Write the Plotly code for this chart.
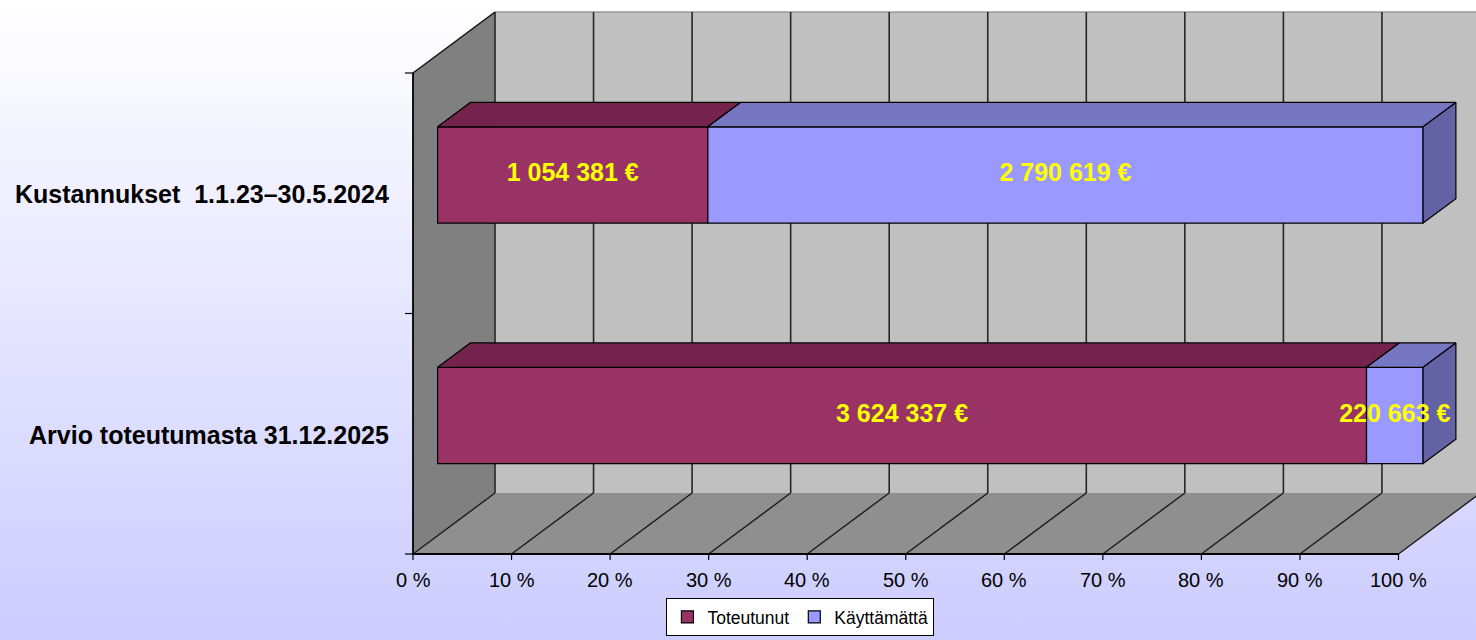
import base64
import plotly.graph_objects as go

# ---------------- data ----------------
categories = ["Arvio toteutumasta 31.12.2025", "Kustannukset  1.1.23–30.5.2024"]
series_names = ["Toteutunut", "Käyttämättä"]
toteutunut = [3624337, 1054381]
kayttamatta = [220663, 2790619]
tick_values = [0, 10, 20, 30, 40, 50, 60, 70, 80, 90, 100]
tick_labels = ["0 %", "10 %", "20 %", "30 %", "40 %", "50 %", "60 %", "70 %", "80 %", "90 %", "100 %"]

# ---------------- style / geometry ----------------
W, H = 1476, 640
X0_PX, XS = 413.0, 9.855      # px of 0 %, px per %
Y0_PX, YS = 554.0, 240.5      # px of category-axis origin, px per category unit
DX = 82.0 / XS                # depth offset in x units
DY = 61.0 / YS                # depth offset in y units
F0, F1 = 0.3, 0.7             # bar depth (front, back)
BAR_HALF = 0.2

front_cols = ["#993366", "#9999FF"]
top_cols = ["#74234C", "#7676C2"]
side_cols = ["#5E1B3D", "#6262A4"]
FONT = "Liberation Sans, Arial, sans-serif"

x_range = [(0 - X0_PX) / XS, (W - X0_PX) / XS]
y_range = [(Y0_PX - H) / YS, Y0_PX / YS]
n_cat = len(categories)


def P(v, u, d):
    return v + d * DX, u + d * DY


def path(points):
    return "M " + " L ".join(f"{x:.5f},{y:.5f}" for x, y in points) + " Z"


def seg(points):
    return "M " + " L ".join(f"{x:.5f},{y:.5f}" for x, y in points)


fig = go.Figure()
shapes = []

# walls
left_wall = [P(0, 0, 0), P(0, n_cat, 0), P(0, n_cat, 1), P(0, 0, 1)]
back_wall = [P(0, 0, 1), P(100, 0, 1), P(100, n_cat, 1), P(0, n_cat, 1)]
floor = [P(0, 0, 0), P(100, 0, 0), P(100, 0, 1), P(0, 0, 1)]
shapes.append(dict(type="path", path=path(back_wall), fillcolor="#C0C0C0",
                   line=dict(width=0), layer="below", xref="x", yref="y"))
shapes.append(dict(type="path", path=path(left_wall), fillcolor="#808080",
                   line=dict(width=0), layer="below", xref="x", yref="y"))
shapes.append(dict(type="path", path=path(floor), fillcolor="#8F8F8F",
                   line=dict(width=0), layer="below", xref="x", yref="y"))
# back wall top edge
shapes.append(dict(type="path", path=seg([P(0, n_cat, 1), P(100, n_cat, 1)]),
                   line=dict(color="#9A9A9A", width=1.5), layer="below", xref="x", yref="y"))
# gridlines: back wall verticals and floor diagonals
for v in tick_values:
    shapes.append(dict(type="path", path=seg([P(v, 0, 1), P(v, n_cat, 1)]),
                       line=dict(color="#262626", width=1.6), layer="below", xref="x", yref="y"))
    shapes.append(dict(type="path", path=seg([P(v, 0, 0), P(v, 0, 1)]),
                       line=dict(color="#1A1A1A", width=1.4), layer="below", xref="x", yref="y"))
# left wall top edge
shapes.append(dict(type="path", path=seg([P(0, n_cat, 0), P(0, n_cat, 1)]),
                   line=dict(color="#111111", width=1.5), layer="below", xref="x", yref="y"))
# axis lines
shapes.append(dict(type="path", path=seg([P(0, 0, 0), P(0, n_cat, 0)]),
                   line=dict(color="#000000", width=1.8), layer="below", xref="x", yref="y"))
shapes.append(dict(type="path", path=seg([P(0, 0, 0), P(100, 0, 0)]),
                   line=dict(color="#000000", width=1.8), layer="below", xref="x", yref="y"))
# tick marks
for v in tick_values:
    shapes.append(dict(type="path", path=seg([(v, 0), (v, -6 / YS)]),
                       line=dict(color="#000000", width=1.2), layer="below", xref="x", yref="y"))
for u in range(n_cat + 1):
    shapes.append(dict(type="path", path=seg([(0, u), (-8 / XS, u)]),
                       line=dict(color="#000000", width=1.2), layer="below", xref="x", yref="y"))

# ---------------- bars ----------------
values = [toteutunut, kayttamatta]
totals = [sum(v[i] for v in values) for i in range(n_cat)]
centers = [i + 0.5 for i in range(n_cat)]

starts = [0.0] * n_cat
seg_info = []
for s, vals in enumerate(values):
    pct = [vals[i] / totals[i] * 100 for i in range(n_cat)]
    fig.add_trace(go.Bar(
        name=series_names[s], orientation="h",
        y=[c + F0 * DY for c in centers], x=pct,
        base=[starts[i] + F0 * DX for i in range(n_cat)],
        width=2 * BAR_HALF,
        marker=dict(color=front_cols[s], line=dict(color="#000000", width=1.2)),
        hoverinfo="skip",
    ))
    for i in range(n_cat):
        seg_info.append((s, i, starts[i], starts[i] + pct[i], vals[i]))
    starts = [starts[i] + pct[i] for i in range(n_cat)]

# top faces and side faces
for s, i, a, b, val in seg_info:
    c = centers[i]
    top = [P(a, c + BAR_HALF, F0), P(b, c + BAR_HALF, F0), P(b, c + BAR_HALF, F1), P(a, c + BAR_HALF, F1), P(a, c + BAR_HALF, F0)]
    fig.add_trace(go.Scatter(x=[p[0] for p in top], y=[p[1] for p in top], mode="lines",
                             fill="toself", fillcolor=top_cols[s],
                             line=dict(color="#000000", width=1.2),
                             showlegend=False, hoverinfo="skip"))
    if abs(b - 100) < 1e-6:
        side = [P(b, c - BAR_HALF, F0), P(b, c + BAR_HALF, F0), P(b, c + BAR_HALF, F1), P(b, c - BAR_HALF, F1), P(b, c - BAR_HALF, F0)]
        fig.add_trace(go.Scatter(x=[p[0] for p in side], y=[p[1] for p in side], mode="lines",
                                 fill="toself", fillcolor=side_cols[s],
                                 line=dict(color="#000000", width=1.2),
                                 showlegend=False, hoverinfo="skip"))

# value labels
lx, ly, lt = [], [], []
for s, i, a, b, val in seg_info:
    x, y = P((a + b) / 2, centers[i], F0)
    lx.append(x)
    ly.append(y)
    lt.append("<b>" + f"{val:,}".replace(",", " ") + " €</b>")
fig.add_trace(go.Scatter(x=lx, y=ly, text=lt, mode="text",
                         textfont=dict(family=FONT, size=25, color="#FFFF00"),
                         showlegend=False, hoverinfo="skip", cliponaxis=False))

annotations = []
for v, t in zip(tick_values, tick_labels):
    annotations.append(dict(x=v, y=0, xref="x", yref="y", text=t, showarrow=False,
                            yshift=-26, xanchor="center", yanchor="middle",
                            font=dict(family=FONT, size=20, color="#000000")))
for c, name in zip(centers, categories):
    annotations.append(dict(x=0, y=c, xref="x", yref="y", text="<b>" + name + "</b>",
                            showarrow=False, xshift=-22, yshift=-1, xanchor="right", yanchor="middle",
                            font=dict(family=FONT, size=25, color="#000000")))

# gradient background
svg = ('<svg xmlns="http://www.w3.org/2000/svg" width="1476" height="640" preserveAspectRatio="none">'
       '<defs><linearGradient id="g" x1="0" y1="0" x2="0" y2="1">'
       '<stop offset="0" stop-color="#FFFFFF"/><stop offset="1" stop-color="#CCCCFF"/>'
       '</linearGradient></defs><rect width="1476" height="640" fill="url(#g)"/></svg>')
src = "data:image/svg+xml;base64," + base64.b64encode(svg.encode()).decode()

fig.update_layout(
    width=W, height=H, autosize=False,
    margin=dict(l=0, r=0, t=0, b=0, pad=0),
    paper_bgcolor="#FFFFFF", plot_bgcolor="rgba(0,0,0,0)",
    barmode="overlay",
    images=[dict(source=src, xref="paper", yref="paper", x=0, y=1, sizex=1, sizey=1,
                 xanchor="left", yanchor="top", sizing="stretch", layer="below")],
    xaxis=dict(range=x_range, visible=False, fixedrange=True),
    yaxis=dict(range=y_range, visible=False, fixedrange=True),
    shapes=shapes, annotations=annotations,
    showlegend=True,
    legend=dict(orientation="h", x=0.5423, xanchor="center", y=1 - 598 / H, yanchor="top",
                bgcolor="#FFFFFF", bordercolor="#000000", borderwidth=1,
                font=dict(family=FONT, size=17.5, color="#000000"),
                traceorder="normal", itemwidth=30),
    font=dict(family=FONT),
)

fig.write_html("out.html", config={"displayModeBar": False},
               post_script="document.body.style.margin='0';")
